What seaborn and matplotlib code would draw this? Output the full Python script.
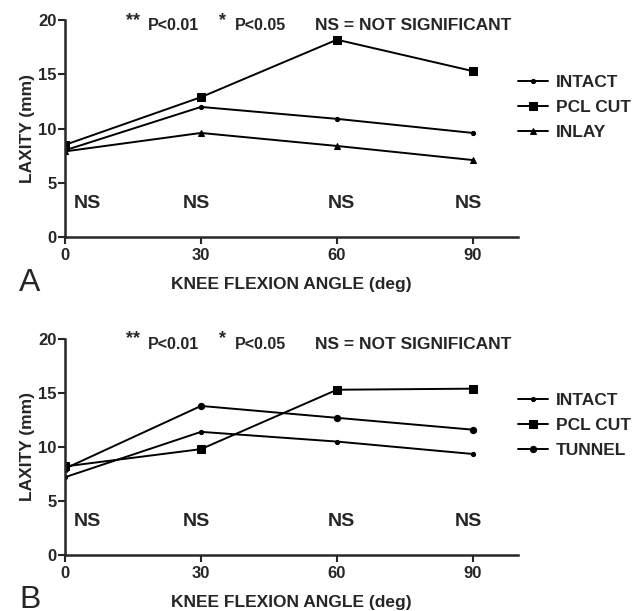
import numpy as np
import pandas as pd
import matplotlib
matplotlib.use("Agg")
import matplotlib.pyplot as plt
import seaborn as sns

# =============================================================================
# Data
# =============================================================================
angles = [0, 30, 60, 90]

# panel A
intact_a = [8.0, 12.0, 10.9, 9.6]
pcl_cut_a = [8.5, 12.9, 18.2, 15.3]
inlay_a = [7.9, 9.6, 8.4, 7.1]

# panel B
intact_b = [7.2, 11.4, 10.5, 9.35]
pcl_cut_b = [8.2, 9.8, 15.3, 15.4]
tunnel_b = [8.0, 13.8, 12.7, 11.6]

ns_x = [5, 29, 61, 89]
ns_labels = ["NS", "NS", "NS", "NS"]
y_ticks = [0, 5, 10, 15, 20]
x_ticks = [0, 30, 60, 90]

sns.set_style("ticks")
plt.rcParams['font.family'] = ['Liberation Sans', 'DejaVu Sans']
plt.rcParams['font.weight'] = 'bold'

fig = plt.figure(figsize=(6.34, 6.11), dpi=100)
ax_a = fig.add_axes([0.1025, 0.612, 0.715, 0.355])
ax_b = fig.add_axes([0.1025, 0.0917, 0.715, 0.3535])


def draw_panel(ax, series, letter, leg_y):
    for name, vals, mk, ms in series:
        df = pd.DataFrame({"angle": angles, "laxity": vals})
        sns.lineplot(data=df, x="angle", y="laxity", ax=ax, color="black",
                     marker=mk, markersize=ms, linewidth=1.4,
                     markeredgecolor="black", label=name)

    ax.set_xlim(0, 100)
    ax.set_ylim(0, 20)
    ax.set_xticks(x_ticks)
    ax.set_yticks(y_ticks)
    ax.tick_params(labelsize=12, width=1.5, length=5)
    ax.tick_params(axis="y", pad=1)
    ax.tick_params(axis="x", pad=3)
    for lab in ax.get_xticklabels() + ax.get_yticklabels():
        lab.set_fontweight("bold")
    for s in ["top", "right"]:
        ax.spines[s].set_visible(False)
    for s in ["left", "bottom"]:
        ax.spines[s].set_linewidth(1.8)

    ax.set_ylabel("LAXITY (mm)", fontsize=12.5, fontweight="bold", labelpad=2)
    ax.set_xlabel("KNEE FLEXION ANGLE (deg)", fontsize=12.5, fontweight="bold", labelpad=10)

    for x, t in zip(ns_x, ns_labels):
        ax.text(x, 3.1, t, ha="center", va="center", fontsize=14, fontweight="bold")

    # significance key
    ax.text(14.9, 20.0, "**", ha="center", va="center", fontsize=13, fontweight="bold")
    ax.text(18.2, 19.5, "P<0.01", ha="left", va="center", fontsize=11.5, fontweight="bold")
    ax.text(34.7, 20.0, "*", ha="center", va="center", fontsize=13, fontweight="bold")
    ax.text(37.5, 19.5, "P<0.05", ha="left", va="center", fontsize=11.5, fontweight="bold")
    ax.text(55.1, 19.5, "NS = NOT SIGNIFICANT", ha="left", va="center", fontsize=12.5, fontweight="bold")

    ax.text(-7.8, -4.2, letter, ha="center", va="center", fontsize=23, fontweight="normal")

    ax.legend(loc="center left", bbox_to_anchor=(1.0, leg_y), frameon=False,
              handlelength=1.7, handletextpad=0.45, borderpad=0.0,
              labelspacing=0.55, borderaxespad=0.0,
              prop={"weight": "bold", "size": 12.5})


draw_panel(ax_a, [("INTACT", intact_a, "o", 3),
                  ("PCL CUT", pcl_cut_a, "s", 5.5),
                  ("INLAY", inlay_a, "^", 4)], "A", 0.597)
draw_panel(ax_b, [("INTACT", intact_b, "o", 3),
                  ("PCL CUT", pcl_cut_b, "s", 5.5),
                  ("TUNNEL", tunnel_b, "o", 4.5)], "B", 0.60)

fig.savefig("out.png", dpi=100, facecolor="white")
